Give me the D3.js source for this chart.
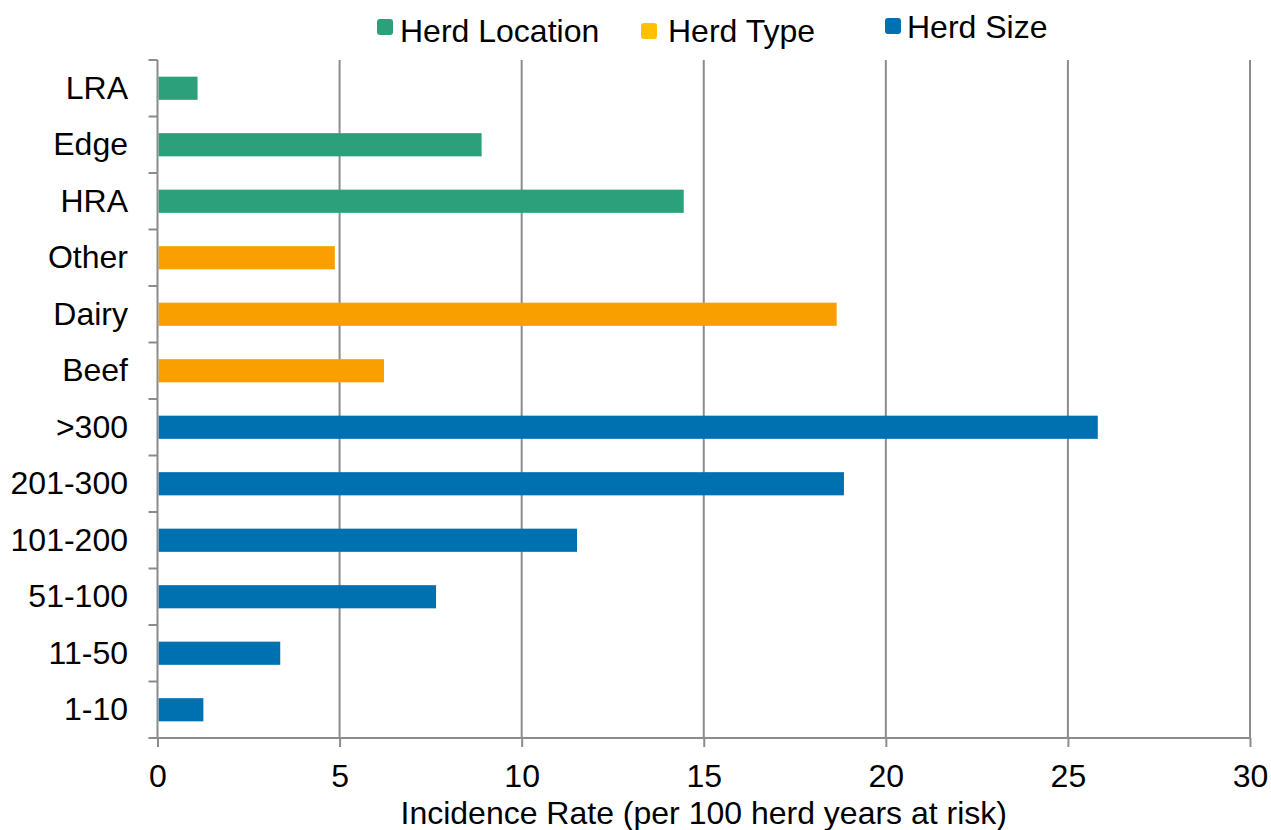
<!DOCTYPE html>
<html>
<head>
<meta charset="utf-8">
<script src="https://cdn.jsdelivr.net/npm/d3@7/dist/d3.min.js"></script>
<style>
  html, body { margin: 0; padding: 0; background: #fff; }
  svg text { font-family: "Liberation Sans", Arial, sans-serif; fill: #000; }
</style>
</head>
<body>
<svg id="chart" width="1271" height="830"></svg>
<script>
// Categories, top to bottom
const categories = ["LRA", "Edge", "HRA", "Other", "Dairy", "Beef", ">300", "201-300", "101-200", "51-100", "11-50", "1-10"];
// Incidence rate per 100 herd years at risk
const values = [1.1, 8.9, 14.45, 4.87, 18.65, 6.22, 25.82, 18.85, 11.52, 7.65, 3.37, 1.26];
// Group each category belongs to
const groups = ["Herd Location", "Herd Location", "Herd Location", "Herd Type", "Herd Type", "Herd Type",
                "Herd Size", "Herd Size", "Herd Size", "Herd Size", "Herd Size", "Herd Size"];
const xTicks = [0, 5, 10, 15, 20, 25, 30];
const legendNames = ["Herd Location", "Herd Type", "Herd Size"];

const barColor = { "Herd Location": "#2ca07a", "Herd Type": "#fa9f00", "Herd Size": "#0071b0" };
const legendColor = { "Herd Location": "#2ca07a", "Herd Type": "#ffc000", "Herd Size": "#0071b0" };

const svg = d3.select("#chart");
const margin = { left: 157.5, right: 21, top: 60, bottom: 92 };
const W = 1271, H = 830;
const fontSize = "32px";

const x = d3.scaleLinear().domain([0, 30]).range([margin.left, W - margin.right]);
const y = d3.scaleBand().domain(categories).range([margin.top, H - margin.bottom]).paddingInner(0.59).paddingOuter(0.295);
const yEdge = d3.scaleBand().domain(categories).range([margin.top, H - margin.bottom]);

const gridColor = "#8c8c8c";

// vertical gridlines
svg.append("g").selectAll("line").data(xTicks.filter(t => t > 0)).join("line")
  .attr("x1", d => x(d)).attr("x2", d => x(d))
  .attr("y1", margin.top).attr("y2", H - margin.bottom)
  .attr("stroke", gridColor).attr("stroke-width", 2);

// bars
svg.append("g").selectAll("rect").data(categories).join("rect")
  .attr("x", x(0) + 1)
  .attr("y", d => y(d))
  .attr("width", (d, i) => x(values[i]) - x(0) - 1)
  .attr("height", y.bandwidth())
  .attr("fill", (d, i) => barColor[groups[i]]);

// x axis
const xAxis = svg.append("g")
  .attr("transform", `translate(0,${H - margin.bottom})`)
  .call(d3.axisBottom(x).tickValues(xTicks).tickSize(9).tickSizeOuter(0));
xAxis.select(".domain").attr("stroke", gridColor).attr("stroke-width", 2)
  .attr("d", `M${x(0) - 9},0H${x(30)}`);
xAxis.selectAll(".tick line").attr("stroke", gridColor).attr("stroke-width", 2);
xAxis.selectAll(".tick text")
  .attr("y", 49).attr("dy", 0)
  .style("font-size", fontSize).attr("fill", "#000");

// y axis: category labels centred in bands, ticks on band boundaries
const yAxisG = svg.append("g");
yAxisG.append("line")
  .attr("x1", x(0)).attr("x2", x(0))
  .attr("y1", margin.top).attr("y2", H - margin.bottom)
  .attr("stroke", gridColor).attr("stroke-width", 2);
const boundaries = categories.map(c => yEdge(c));
yAxisG.selectAll("line.tick").data(boundaries).join("line")
  .attr("class", "tick")
  .attr("x1", x(0) - 9).attr("x2", x(0))
  .attr("y1", d => d).attr("y2", d => d)
  .attr("stroke", gridColor).attr("stroke-width", 2);
yAxisG.selectAll("text").data(categories).join("text")
  .attr("x", 128)
  .attr("y", d => yEdge(d) + yEdge.bandwidth() / 2 + 10.5)
  .attr("text-anchor", "end")
  .style("font-size", fontSize)
  .text(d => d);

// axis title
svg.append("text")
  .attr("x", (x(0) + x(30)) / 2)
  .attr("y", 824)
  .attr("text-anchor", "middle")
  .style("font-size", fontSize)
  .text("Incidence Rate (per 100 herd years at risk)");

// legend
const legendPos = [
  { mx: 377, my: 19, tx: 400, ty: 42 },
  { mx: 641, my: 23, tx: 668, ty: 42 },
  { mx: 885, my: 18, tx: 907, ty: 38 }
];
const lg = svg.append("g");
legendNames.forEach((name, i) => {
  const p = legendPos[i];
  lg.append("rect")
    .attr("x", p.mx).attr("y", p.my)
    .attr("width", 16).attr("height", 16)
    .attr("rx", 3).attr("ry", 3)
    .attr("fill", legendColor[name]);
  lg.append("text")
    .attr("x", p.tx).attr("y", p.ty)
    .style("font-size", fontSize)
    .text(name);
});
</script>
</body>
</html>
